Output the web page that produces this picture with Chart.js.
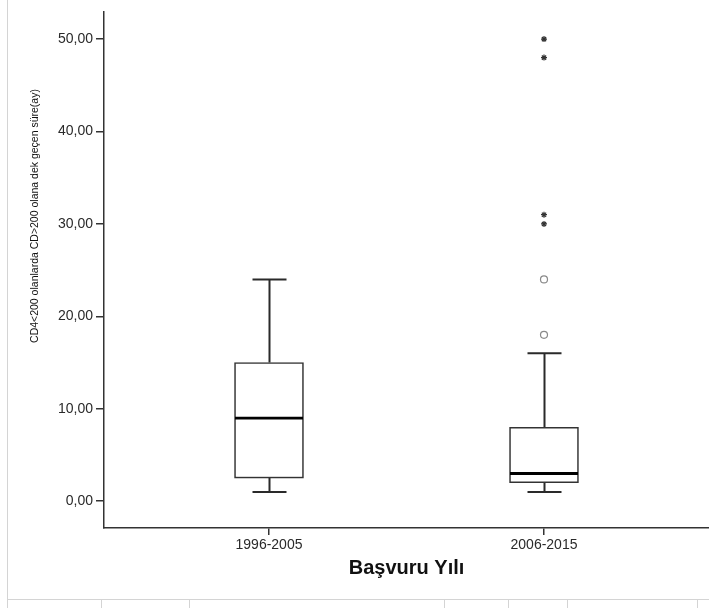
<!DOCTYPE html>
<html>
<head>
<meta charset="utf-8">
<script src="https://cdn.jsdelivr.net/npm/chart.js@4/dist/chart.umd.min.js"></script>
<style>
  html, body { margin: 0; padding: 0; background: #ffffff; }
  #wrap { width: 709px; height: 608px; position: relative; }
</style>
</head>
<body>
<div id="wrap"><canvas id="c" width="709" height="608"></canvas></div>
<script>
// Groups on the x axis
const categories = ['1996-2005', '2006-2015'];
// Five-number summaries per group
const whiskerLow  = [1, 1];
const boxQ1       = [2.5, 2];
const boxMedian   = [9, 3];
const boxQ3       = [15, 8];
const whiskerHigh = [24, 16];
// Outliers (circles) and extreme values (stars)
const outlierGroup = [1, 1];
const outlierValue = [24, 18];
const extremeGroup = [1, 1, 1, 1];
const extremeValue = [50, 48, 31, 30];
// Y axis tick values
const yTicks = [0, 10, 20, 30, 40, 50];

const yTitle = 'CD4<200 olanlarda CD>200 olana dek geçen süre(ay)';
const xTitle = 'Başvuru Yılı';

const fmt = v => v.toFixed(2).replace('.', ',');

// Whiskers, caps and medians drawn with the chart's scales
const boxPlotLines = {
  id: 'boxPlotLines',
  beforeDatasetsDraw(chart) {
    const { ctx, scales: { x, y } } = chart;
    ctx.save();
    ctx.strokeStyle = '#2a2a2a';
    ctx.lineWidth = 2;
    ctx.lineCap = 'butt';
    categories.forEach((c, i) => {
      const cx = Math.round(x.getPixelForValue(i)) + 0.5;
      const capHalf = 17;
      ctx.beginPath();
      ctx.moveTo(cx, y.getPixelForValue(boxQ3[i]));
      ctx.lineTo(cx, y.getPixelForValue(whiskerHigh[i]));
      ctx.moveTo(cx, y.getPixelForValue(boxQ1[i]));
      ctx.lineTo(cx, y.getPixelForValue(whiskerLow[i]));
      ctx.moveTo(cx - capHalf, y.getPixelForValue(whiskerHigh[i]));
      ctx.lineTo(cx + capHalf, y.getPixelForValue(whiskerHigh[i]));
      ctx.moveTo(cx - capHalf, y.getPixelForValue(whiskerLow[i]));
      ctx.lineTo(cx + capHalf, y.getPixelForValue(whiskerLow[i]));
      ctx.stroke();
    });
    ctx.restore();
  },
  afterDatasetsDraw(chart) {
    const { ctx, scales: { x, y } } = chart;
    ctx.save();
    ctx.strokeStyle = '#000000';
    ctx.lineWidth = 2.8;
    categories.forEach((c, i) => {
      const cx = x.getPixelForValue(i);
      const half = 34;
      const my = y.getPixelForValue(boxMedian[i]);
      ctx.beginPath();
      ctx.moveTo(cx - half, my);
      ctx.lineTo(cx + half, my);
      ctx.stroke();
    });
    ctx.restore();
  }
};

// Rotated y-axis title and the light page frame
const decorations = {
  id: 'decorations',
  beforeDraw(chart) {
    const { ctx } = chart;
    ctx.save();
    ctx.fillStyle = '#ffffff';
    ctx.fillRect(0, 0, chart.width, chart.height);
    ctx.strokeStyle = '#d4d4d4';
    ctx.lineWidth = 1;
    ctx.beginPath();
    ctx.moveTo(7.5, 0);
    ctx.lineTo(7.5, 608);
    ctx.moveTo(7, 599.5);
    ctx.lineTo(709, 599.5);
    [101, 189, 444, 508, 567, 697].forEach(px => {
      ctx.moveTo(px + 0.5, 599);
      ctx.lineTo(px + 0.5, 608);
    });
    ctx.stroke();
    ctx.restore();
  },
  afterDraw(chart) {
    const { ctx } = chart;
    ctx.save();
    ctx.translate(35, 216);
    ctx.rotate(-Math.PI / 2);
    ctx.fillStyle = '#111111';
    ctx.font = '10.5px "Liberation Sans", Arial, sans-serif';
    ctx.textAlign = 'center';
    ctx.textBaseline = 'middle';
    ctx.fillText(yTitle, 0, 0);
    ctx.restore();
  }
};

new Chart(document.getElementById('c'), {
  type: 'bar',
  data: {
    datasets: [
      {
        type: 'bar',
        data: categories.map((c, i) => ({ x: i, y: [boxQ1[i], boxQ3[i]] })),
        backgroundColor: '#ffffff',
        borderColor: '#333333',
        borderWidth: 1.6,
        borderSkipped: false,
        barThickness: 69,
        order: 2
      },
      {
        type: 'scatter',
        data: outlierGroup.map((g, i) => ({ x: g, y: outlierValue[i] })),
        pointStyle: 'circle',
        pointRadius: 3.5,
        backgroundColor: '#ffffff',
        borderColor: '#8a8a8a',
        borderWidth: 1.2,
        order: 1
      },
      {
        type: 'scatter',
        data: extremeGroup.map((g, i) => ({ x: g, y: extremeValue[i] })),
        pointStyle: 'star',
        pointRadius: 3,
        backgroundColor: '#333333',
        borderColor: '#333333',
        borderWidth: 1.2,
        order: 1
      }
    ]
  },
  options: {
    responsive: false,
    animation: false,
    events: [],
    layout: { autoPadding: false, padding: { top: 8, right: 0, bottom: 0, left: 0 } },
    plugins: { legend: { display: false }, tooltip: { enabled: false } },
    scales: {
      x: {
        type: 'linear',
        min: -0.6,
        max: 1.6,
        offset: false,
        afterBuildTicks: s => { s.ticks = categories.map((c, i) => ({ value: i })); },
        afterFit: s => { s.height = 80; },
        ticks: {
          callback: v => categories[v],
          font: { family: '"Liberation Sans", Arial, sans-serif', size: 14 },
          color: '#2a2a2a',
          padding: 2,
          maxRotation: 0
        },
        grid: { display: true, drawOnChartArea: false, drawTicks: true, tickLength: 7, color: '#333333', lineWidth: 1.5, offset: false },
        border: { display: true, color: '#333333', width: 1.5 },
        title: {
          display: true,
          text: xTitle,
          font: { family: '"Liberation Sans", Arial, sans-serif', size: 20, weight: 'bold' },
          color: '#111111',
          padding: { top: 0, bottom: 28 }
        }
      },
      y: {
        type: 'linear',
        min: -2.9,
        max: 53,
        afterBuildTicks: s => { s.ticks = yTicks.map(v => ({ value: v })); },
        afterFit: s => { s.width = 104; },
        ticks: {
          callback: v => fmt(v),
          font: { family: '"Liberation Sans", Arial, sans-serif', size: 14 },
          color: '#2a2a2a',
          padding: 3
        },
        grid: { display: true, drawOnChartArea: false, drawTicks: true, tickLength: 8, color: '#333333', lineWidth: 1.5 },
        border: { display: true, color: '#333333', width: 1.5 },
        title: { display: false }
      }
    }
  },
  plugins: [decorations, boxPlotLines]
});
</script>
</body>
</html>
